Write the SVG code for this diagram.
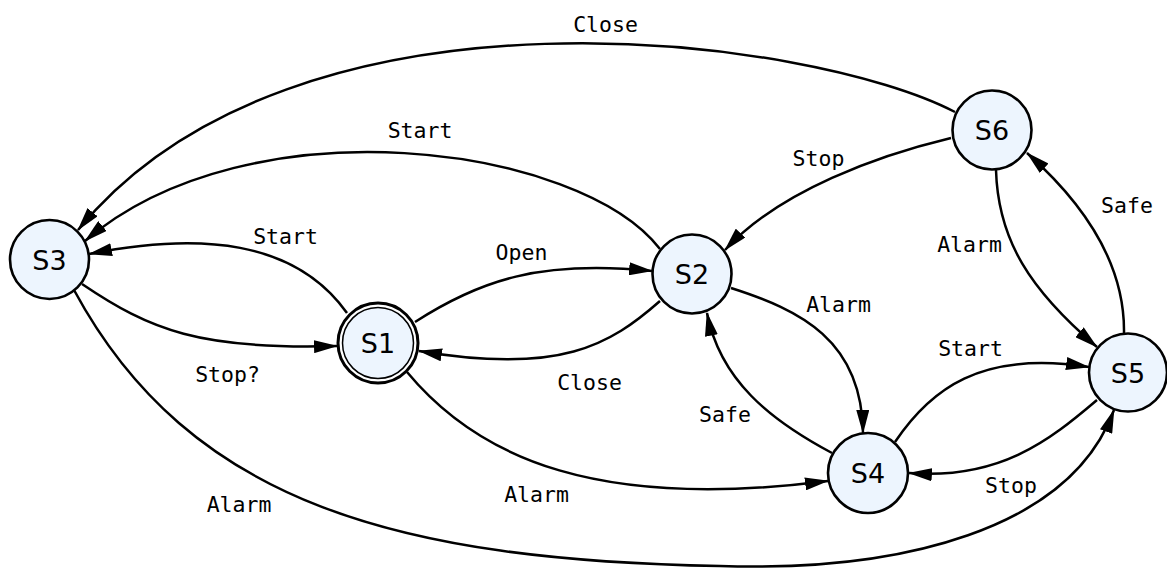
<svg xmlns="http://www.w3.org/2000/svg" width="1167" height="568" viewBox="0 0 1167 568">
<style>
.bg{fill:#ffffff}
.node{fill:#EDF5FE;stroke:#000;stroke-width:2.6}
.ring{fill:#ffffff;stroke:#000;stroke-width:3}
.inner{fill:#EDF5FE;stroke:#000;stroke-width:1.5}
.nl{font-family:"DejaVu Sans","Liberation Sans",sans-serif;font-size:27px;fill:#000;text-anchor:middle}
.edge{fill:none;stroke:#000;stroke-width:2.5;marker-end:url(#arr)}
.el{font-family:"DejaVu Sans Mono","Liberation Mono",monospace;font-size:21.5px;fill:#000;text-anchor:middle}
</style>
<defs>
<marker id="arr" markerUnits="userSpaceOnUse" markerWidth="24" markerHeight="13" viewBox="0 0 24 13" refX="23" refY="6.5" orient="auto">
<path d="M0,0 L24,6.5 L0,13 z" fill="#000"/>
</marker>
</defs>
<rect class="bg" x="0" y="0" width="1167" height="568"/>
<g id="connectors">
<path id="e-s6-s3" class="edge" d="M955,112 C814,38 295,-35 78,230"/>
<path id="e-s2-s3" class="edge" d="M660,249 C580,145 250,100 85,241"/>
<path id="e-s1-s3" class="edge" d="M347,313 C295,240 200,232 89,254"/>
<path id="e-s3-s1" class="edge" d="M82,284 C150,330 200,350 337,346"/>
<path id="e-s1-s2" class="edge" d="M415,322 C480,280 540,260 652,271"/>
<path id="e-s2-s1" class="edge" d="M660,301 C610,345 560,375 419,351"/>
<path id="e-s1-s4" class="edge" d="M407,372 C480,460 600,510 828,481"/>
<path id="e-s3-s5" class="edge" d="M74,290 C190,505 400,560 720,566 C900,572 1070,530 1114,410"/>
<path id="e-s4-s2" class="edge" d="M832,453 C770,420 720,380 707,313"/>
<path id="e-s2-s4" class="edge" d="M731,288 C800,310 862,340 863,433"/>
<path id="e-s4-s5" class="edge" d="M895,442 C930,390 980,350 1089,367"/>
<path id="e-s5-s4" class="edge" d="M1097,400 C1050,440 1000,480 909,473"/>
<path id="e-s6-s2" class="edge" d="M951,138 C880,155 780,190 725,250"/>
<path id="e-s6-s5" class="edge" d="M996,170 C998,240 1030,290 1097,347"/>
<path id="e-s5-s6" class="edge" d="M1124,333 C1125,260 1080,200 1027,153"/>
</g>
<g id="edge-labels">
<text class="el" x="605.5" y="31.5">Close</text>
<text class="el" x="420" y="137.5">Start</text>
<text class="el" x="285.5" y="243.5">Start</text>
<text class="el" x="227.5" y="381.5">Stop?</text>
<text class="el" x="521.5" y="260">Open</text>
<text class="el" x="589.5" y="390">Close</text>
<text class="el" x="725" y="422">Safe</text>
<text class="el" x="838.5" y="311.5">Alarm</text>
<text class="el" x="818.5" y="165.5">Stop</text>
<text class="el" x="969.5" y="251.5">Alarm</text>
<text class="el" x="1127" y="213">Safe</text>
<text class="el" x="970.5" y="356">Start</text>
<text class="el" x="1011" y="493">Stop</text>
<text class="el" x="536.5" y="501.5">Alarm</text>
<text class="el" x="239" y="511.5">Alarm</text>
</g>
<g id="S3"><circle class="node" cx="49.5" cy="259.5" r="39.5"/><text class="nl" x="49.5" y="269.5">S3</text></g>
<g id="S1"><circle class="ring" cx="378" cy="343" r="40"/><circle class="inner" cx="378" cy="343" r="35.5"/><text class="nl" x="378" y="353">S1</text></g>
<g id="S2"><circle class="node" cx="692" cy="274" r="39.5"/><text class="nl" x="692" y="284">S2</text></g>
<g id="S6"><circle class="node" cx="992" cy="130" r="39.5"/><text class="nl" x="992" y="140">S6</text></g>
<g id="S5"><circle class="node" cx="1128" cy="372.5" r="39"/><text class="nl" x="1128" y="382.5">S5</text></g>
<g id="S4"><circle class="node" cx="868" cy="473" r="40"/><text class="nl" x="868" y="483">S4</text></g>
</svg>
